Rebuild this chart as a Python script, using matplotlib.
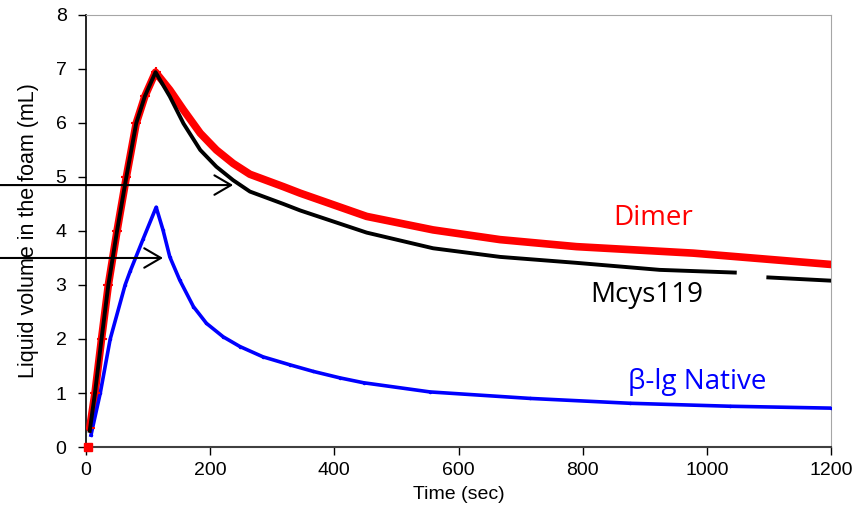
import numpy as np
import matplotlib
matplotlib.use("Agg")
import matplotlib.pyplot as plt

# values
dimer_t = [3, 6, 14.5, 25, 36, 50, 65, 81, 95, 112, 135, 157, 184, 210, 237, 264,
           318, 345, 452, 559, 667, 790, 978, 1200]
dimer_v = [0, 0.35, 1.0, 2.0, 3.0, 4.0, 5.0, 6.0, 6.5, 6.94, 6.61, 6.24, 5.81, 5.50, 5.25, 5.05,
           4.82, 4.70, 4.27, 4.02, 3.84, 3.71, 3.59, 3.38]

mcys_t = [6, 14.5, 25, 36, 50, 65, 81, 95, 112, 135, 157, 184, 210, 237, 264,
          318, 345, 452, 559, 667, 790, 924, 1045, 1070, 1099, 1200]
mcys_v = [0.3, 1.0, 2.0, 3.0, 4.0, 5.0, 6.0, 6.5, 6.94, 6.49, 5.99, 5.50, 5.19, 4.94, 4.73,
          4.50, 4.38, 3.97, 3.68, 3.52, 3.41, 3.28, 3.23, np.nan, 3.14, 3.08]

native_t = [8, 23, 39, 63, 71, 92, 113, 124, 135, 151, 173, 194, 221, 248, 285, 329,
            366, 409, 447, 554, 715, 876, 1037, 1200]
native_v = [0.22, 1.0, 2.0, 3.0, 3.25, 3.85, 4.44, 4.02, 3.52, 3.09, 2.60, 2.29, 2.04, 1.86, 1.67, 1.52,
            1.40, 1.28, 1.19, 1.02, 0.90, 0.81, 0.755, 0.72]

# arrows: (y level, x of arrow tip)
arrows = [(4.85, 237), (3.5, 124)]

labels = [("Dimer", 913, 4.24, "red"),
          ("Mcys119", 903, 2.81, "black"),
          ("\u03b2-lg Native", 985, 1.20, "blue")]

tick_font = ["Liberation Sans", "DejaVu Sans"]
label_font = ["Open Sans", "DejaVu Sans"]

fig = plt.figure(figsize=(8.54, 5.15), dpi=100)
ax = fig.add_axes([0.1007, 0.132, 0.8724, 0.839])

# rising parts carry markers, decay parts are plain thick lines
n_rise = 10
ax.plot(dimer_t[1:], dimer_v[1:], color="red", lw=5.5, solid_capstyle="round", zorder=3)
ax.plot(dimer_t[1:n_rise], dimer_v[1:n_rise], color="red", marker="+",
        ms=7, mew=1.5, ls="none", zorder=4)
ax.plot(dimer_t[:1], dimer_v[:1], color="red", marker="s", ms=6, ls="none",
        clip_on=False, zorder=4)
ax.plot(mcys_t, mcys_v, color="black", lw=2.8, zorder=4)
ax.plot(native_t, native_v, color="blue", lw=2.6, marker=".", ms=3, zorder=3)

for y, x_tip in arrows:
    ax.annotate("", xy=(x_tip, y), xycoords="data",
                xytext=(-0.116, y), textcoords=("axes fraction", "data"),
                arrowprops=dict(arrowstyle="->, head_length=0.6, head_width=0.35",
                                color="black", lw=1.5, mutation_scale=20,
                                shrinkA=0, shrinkB=0),
                annotation_clip=False, zorder=5)

for text, x, y, c in labels:
    ax.text(x, y, text, color=c, fontsize=20, ha="center", va="center",
            family=label_font)

ax.set_xlim(0, 1200)
ax.set_ylim(0, 8)
ax.set_xticks(range(0, 1201, 200))
ax.set_yticks(range(0, 9))
ax.tick_params(direction="out", length=6, width=1, labelsize=14)
ax.tick_params(axis="y", pad=8)
ax.tick_params(axis="x", pad=5)
for lab in ax.get_xticklabels() + ax.get_yticklabels():
    lab.set_family(tick_font)

ax.set_xlabel("Time (sec)", fontsize=14, family=tick_font, labelpad=5)
ax.set_ylabel("Liquid volume in the foam (mL)", fontsize=15.5, family=tick_font, labelpad=12)

ax.spines["top"].set_color("#a6a6a6")
ax.spines["right"].set_color("#a6a6a6")
ax.spines["left"].set_linewidth(1.2)
ax.spines["bottom"].set_color("#404040")
ax.spines["bottom"].set_linewidth(1.5)

fig.savefig("out.png", dpi=100)
